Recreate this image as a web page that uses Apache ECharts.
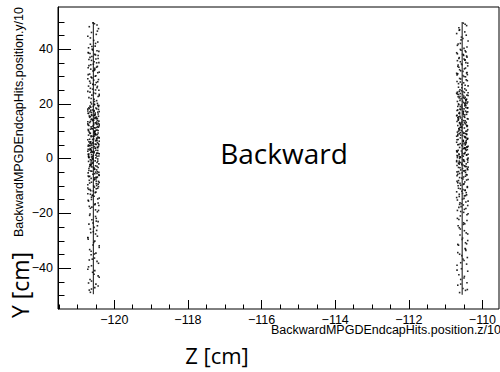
<!DOCTYPE html>
<html>
<head>
<meta charset="utf-8">
<script src="https://cdn.jsdelivr.net/npm/echarts@6/dist/echarts.min.js"></script>
<style>
  html, body { margin: 0; padding: 0; background: #fff; }
  #chart { width: 500px; height: 372px; }
</style>
</head>
<body>
<div id="chart"></div>
<script>
// Hit positions (z, y) in cm for the two backward MPGD endcap layers
const leftHits = [
  [-120.54,49.2],[-120.68,48.1],[-120.43,47.4],[-120.62,46.0],[-120.49,45.3],[-120.72,44.6],[-120.56,43.1],[-120.45,42.5],[-120.65,41.7],[-120.52,41.0],[-120.70,40.4],[-120.47,48.7],
  [-120.59,39.6],[-120.42,39.1],[-120.66,38.3],[-120.51,37.8],[-120.61,37.2],[-120.44,36.5],[-120.69,36.1],[-120.55,35.3],[-120.48,34.9],[-120.64,34.2],[-120.46,33.6],[-120.71,33.1],[-120.53,32.4],[-120.58,31.9],[-120.41,31.5],[-120.67,30.8],[-120.50,30.2],[-120.63,29.7],
  [-120.72,29.1],[-120.56,28.6],[-120.45,28.0],[-120.65,27.5],[-120.52,26.9],[-120.70,26.4],[-120.47,25.8],[-120.59,25.3],[-120.42,24.9],[-120.66,24.2],[-120.51,23.7],[-120.61,23.1],[-120.44,22.6],[-120.69,22.2],[-120.55,21.6],[-120.48,21.1],[-120.64,20.5],[-120.46,20.1],[-120.71,38.7],[-120.53,32.9],[-120.58,27.1],[-120.41,23.4],
  [-120.54,19.8],[-120.45,19.4],[-120.66,19.1],[-120.64,18.7],[-120.50,18.4],[-120.72,18.0],[-120.59,17.7],[-120.55,17.5],[-120.41,17.1],[-120.62,16.8],
  [-120.70,16.4],[-120.44,16.2],[-120.53,15.8],[-120.68,15.5],[-120.65,15.3],[-120.51,14.9],[-120.46,14.6],[-120.63,14.2],[-120.56,14.0],[-120.42,13.6],
  [-120.48,13.3],[-120.67,13.1],[-120.49,12.7],[-120.47,12.4],[-120.69,12.0],[-120.58,11.8],[-120.43,11.4],[-120.52,11.1],[-120.61,10.9],[-120.71,10.5],
  [-120.44,10.2],[-120.53,9.8],[-120.68,9.6],[-120.65,9.2],[-120.51,8.9],[-120.46,8.7],[-120.63,8.3],[-120.56,8.0],[-120.42,7.6],[-120.48,7.4],
  [-120.67,7.0],[-120.49,6.7],[-120.47,6.5],[-120.69,6.1],[-120.58,5.8],[-120.43,5.4],[-120.52,5.2],[-120.61,4.8],[-120.71,4.5],[-120.54,4.3],
  [-120.45,3.9],[-120.66,3.6],[-120.64,3.2],[-120.50,3.0],[-120.72,2.6],[-120.59,2.3],[-120.55,2.1],[-120.41,1.7],[-120.62,1.4],[-120.70,1.0],
  [-120.47,0.8],[-120.69,0.4],[-120.58,0.1],[-120.43,18.9],[-120.52,16.6],[-120.61,14.4],[-120.71,12.2],[-120.54,10.0],[-120.45,7.8],[-120.66,5.6],[-120.64,3.4],[-120.50,1.2],[-120.72,17.3],[-120.59,13.8],[-120.55,9.4],[-120.41,6.3],[-120.62,2.8],[-120.70,0.6],
  [-120.54,19.6],[-120.68,18.2],[-120.43,17.9],[-120.62,16.0],[-120.49,15.1],[-120.72,13.4],[-120.56,12.9],[-120.45,11.6],[-120.65,10.7],[-120.52,9.0],
  [-120.70,8.5],[-120.47,7.2],[-120.59,6.9],[-120.42,5.0],[-120.66,4.6],[-120.51,3.7],[-120.61,2.4],[-120.44,1.9],[-120.69,0.3],[-120.55,15.6],
  [-120.48,11.3],[-120.64,6.0],[-120.46,4.1],[-120.71,1.5],[-120.53,14.7],[-120.58,8.1],[-120.41,12.5],[-120.67,3.1],[-120.50,10.3],[-120.63,5.3],
  [-120.45,-0.2],[-120.65,-0.5],[-120.52,-0.9],[-120.70,-1.1],[-120.47,-1.5],[-120.59,-1.8],[-120.42,-2.0],[-120.66,-2.4],[-120.51,-2.7],[-120.61,-3.1],
  [-120.44,-3.3],[-120.69,-3.7],[-120.55,-4.0],[-120.48,-4.2],[-120.64,-4.6],[-120.46,-4.9],[-120.71,-5.3],[-120.53,-5.6],[-120.58,-5.8],[-120.41,-6.2],
  [-120.67,-6.5],[-120.50,-6.9],[-120.63,-7.3],[-120.54,-7.6],[-120.68,-8.0],[-120.43,-8.4],[-120.62,-8.7],[-120.49,-9.2],[-120.72,-9.6],[-120.56,-10.1],
  [-120.54,-10.5],[-120.45,-10.9],[-120.66,-11.4],[-120.64,-11.8],[-120.50,-12.3],[-120.72,-12.9],[-120.59,-13.4],[-120.55,-13.8],[-120.41,-14.5],[-120.62,-15.0],
  [-120.70,-15.6],[-120.44,-16.3],[-120.53,-16.9],[-120.68,-17.5],[-120.65,-18.2],[-120.51,-18.8],[-120.46,-19.5],[-120.63,-1.3],[-120.56,-3.5],[-120.42,-5.1],
  [-120.48,-7.0],[-120.67,-9.0],[-120.49,-11.1],[-120.47,-2.9],[-120.69,-6.7],
  [-120.66,-20.3],[-120.51,-21.2],[-120.61,-22.4],[-120.44,-23.1],[-120.69,-24.0],[-120.55,-25.2],[-120.48,-26.3],[-120.64,-27.1],[-120.46,-28.4],[-120.71,-29.5],
  [-120.53,-30.2],[-120.58,-31.6],[-120.41,-32.5],[-120.67,-33.3],[-120.50,-34.6],[-120.63,-35.2],[-120.54,-36.4],[-120.68,-37.1],[-120.43,-38.3],[-120.62,-39.2],[-120.49,-22.9],[-120.72,-29.0],
  [-120.72,-40.5],[-120.59,-41.6],[-120.55,-42.3],[-120.41,-43.4],[-120.62,-44.8],[-120.70,-45.5],[-120.44,-46.6],[-120.53,-47.2],[-120.68,-48.1],[-120.65,-48.9],
  [-120.60,39.9],[-120.47,39.3],[-120.70,38.5],[-120.53,38.0],[-120.44,37.6],[-120.66,36.9],[-120.50,36.3],[-120.62,35.8],[-120.42,35.0],[-120.57,34.4],
  [-120.69,33.9],[-120.48,33.3],[-120.64,32.6],[-120.55,32.1],[-120.45,31.3],[-120.71,30.6],[-120.52,30.0],[-120.61,29.4],[-120.43,28.8],[-120.67,28.2],
  [-120.49,27.7],[-120.58,27.0],[-120.46,26.3],[-120.65,25.6],[-120.51,25.0],[-120.72,24.5],[-120.56,23.9],[-120.41,22.9],[-120.63,21.9],[-120.54,20.8],
  [-120.62,19.9],[-120.42,19.3],[-120.57,19.0],[-120.69,18.5],[-120.48,18.1],[-120.64,17.6],[-120.55,17.2],[-120.45,16.9],[-120.71,16.5],[-120.52,16.1],
  [-120.61,15.7],[-120.43,15.4],[-120.67,15.0],[-120.49,14.5],[-120.58,14.1],[-120.46,13.9],[-120.65,13.5],[-120.51,13.0],[-120.72,12.6],[-120.56,12.3],
  [-120.41,11.9],[-120.63,11.5],[-120.54,11.2],[-120.60,10.8],[-120.47,10.4],[-120.70,10.1],[-120.53,9.7],[-120.44,9.3],[-120.66,9.1],[-120.50,8.6],
  [-120.54,8.2],[-120.63,7.9],[-120.41,7.5],[-120.56,7.1],[-120.72,6.8],[-120.51,6.4],[-120.65,6.0],[-120.46,5.7],[-120.58,5.5],[-120.49,5.1],
  [-120.67,4.7],[-120.43,4.4],[-120.61,4.0],[-120.52,3.7],[-120.71,3.3],[-120.45,2.9],[-120.55,2.5],[-120.64,2.2],[-120.48,1.8],[-120.69,1.6],
  [-120.57,1.1],[-120.42,0.9],[-120.62,0.5],[-120.50,0.2],[-120.66,17.0],[-120.44,12.8],[-120.53,8.8],[-120.70,4.9],[-120.47,2.0],[-120.60,0.7],
  [-120.60,-0.1],[-120.62,-0.7],[-120.45,-1.0],[-120.58,-1.4],[-120.63,-1.9],[-120.66,-2.2],[-120.64,-2.6],[-120.67,-3.0],[-120.56,-3.4],[-120.53,-3.9],
  [-120.69,-4.4],[-120.61,-4.7],[-120.51,-5.0],[-120.47,-5.5],[-120.42,-6.0],[-120.71,-6.4],[-120.46,-6.8],[-120.54,-7.1],[-120.50,-7.5],[-120.55,-7.9],
  [-120.49,-8.3],[-120.41,-8.8],[-120.44,-9.4],[-120.48,-9.9],[-120.43,-10.3],[-120.72,-10.8],[-120.70,-11.3],[-120.57,-11.9],[-120.52,-12.5],[-120.65,-13.1],
  [-120.60,-13.6],[-120.62,-14.2],[-120.45,-14.8],[-120.58,-0.4],[-120.63,-2.3],
  [-120.71,-15.3],[-120.52,-16.6],[-120.61,-17.8],[-120.43,-19.0],[-120.67,-20.8],[-120.49,-21.9],[-120.58,-23.6],[-120.46,-24.6],[-120.65,-25.8],[-120.51,-27.6],
  [-120.72,-28.9],[-120.56,-30.7],[-120.41,-31.9],[-120.63,-33.9],[-120.54,-34.9],[-120.60,-36.8],[-120.47,-37.6],[-120.70,-39.6],[-120.53,-41.0],[-120.44,-42.9],
  [-120.66,-44.2],[-120.50,-45.9],[-120.62,-47.7],[-120.42,-17.2],[-120.57,-26.8],
  [-120.58,49.5],[-120.46,46.5],[-120.65,44.0],[-120.51,42.0],[-120.61,40.9]
];

const rightHits = [
  [-110.52,49.4],[-110.43,48.5],[-110.64,47.7],[-110.62,47.0],[-110.48,46.2],[-110.70,45.6],[-110.57,44.3],[-110.53,43.8],[-110.39,42.9],[-110.60,42.0],[-110.68,41.3],[-110.42,40.7],
  [-110.60,39.8],[-110.47,39.3],[-110.70,38.6],[-110.54,38.0],[-110.43,37.4],[-110.63,36.8],[-110.50,36.3],[-110.68,35.7],[-110.45,35.0],[-110.57,34.5],
  [-110.40,33.8],[-110.64,33.3],[-110.49,32.7],[-110.59,32.0],[-110.42,31.4],[-110.67,30.9],[-110.53,30.3],[-110.46,29.8],[-110.62,29.2],[-110.44,28.7],
  [-110.69,28.1],[-110.51,27.6],[-110.56,27.0],[-110.39,26.5],[-110.65,26.0],[-110.48,25.4],[-110.61,25.1],[-110.52,37.9],[-110.66,34.1],[-110.41,30.6],[-110.60,27.9],[-110.47,36.0],[-110.70,31.1],
  [-110.57,24.7],[-110.53,24.4],[-110.39,24.0],[-110.60,23.7],[-110.68,23.5],[-110.42,23.1],[-110.51,22.8],[-110.66,22.5],[-110.63,22.1],[-110.49,21.9],
  [-110.44,21.5],[-110.61,21.2],[-110.54,20.9],[-110.40,20.6],[-110.46,20.3],[-110.65,19.9],[-110.47,19.7],[-110.45,19.3],[-110.67,19.0],[-110.56,18.8],
  [-110.41,18.4],[-110.50,18.1],[-110.59,17.8],[-110.69,17.5],[-110.52,17.2],[-110.43,16.9],[-110.64,16.5],[-110.62,16.3],[-110.48,15.9],[-110.70,15.6],
  [-110.61,15.4],[-110.48,15.0],[-110.65,14.7],[-110.39,14.4],[-110.56,14.1],[-110.51,13.8],[-110.69,13.5],[-110.44,13.2],[-110.62,12.9],[-110.46,12.6],
  [-110.53,12.3],[-110.67,12.0],[-110.42,11.7],[-110.59,11.4],[-110.49,11.1],[-110.64,10.8],[-110.40,10.5],[-110.57,10.2],[-110.45,9.9],[-110.68,9.6],
  [-110.50,9.3],[-110.63,9.0],[-110.43,8.7],[-110.54,8.4],[-110.70,8.1],[-110.47,7.8],[-110.60,7.5],[-110.41,7.2],[-110.66,6.9],[-110.52,6.6],
  [-110.52,6.3],[-110.45,6.0],[-110.44,5.7],[-110.60,5.4],[-110.64,5.1],[-110.56,4.8],[-110.54,4.5],[-110.42,4.2],[-110.48,3.9],[-110.50,3.6],
  [-110.46,3.3],[-110.66,3.0],[-110.57,2.7],[-110.69,2.4],[-110.47,2.1],[-110.49,1.8],[-110.39,1.5],[-110.43,1.2],[-110.67,0.9],[-110.61,0.6],
  [-110.68,0.3],[-110.62,0.0],[-110.41,-0.3],[-110.40,-0.6],[-110.51,-0.9],[-110.70,-1.2],[-110.59,-1.5],[-110.65,-1.8],[-110.63,-2.1],[-110.53,-2.4],
  [-110.49,-2.7],[-110.44,-3.0],[-110.61,-3.4],[-110.54,-3.7],[-110.40,-4.1],[-110.46,-4.4],[-110.65,-4.8],[-110.47,22.3],[-110.45,18.6],[-110.67,14.9],
  [-110.56,11.2],[-110.41,7.0],[-110.50,3.7],[-110.59,0.4],[-110.69,-2.6],[-110.52,16.0],[-110.43,8.9],[-110.64,1.6],
  [-110.68,24.2],[-110.45,21.0],[-110.57,19.5],[-110.40,17.0],[-110.64,15.2],[-110.49,13.0],[-110.59,12.2],[-110.42,10.0],[-110.67,8.3],[-110.53,6.4],
  [-110.46,5.2],[-110.62,4.0],[-110.44,2.9],[-110.69,1.0],[-110.51,-0.5],[-110.56,-1.9],[-110.39,-3.2],[-110.65,23.3],[-110.48,20.0],[-110.61,18.0],
  [-110.52,16.6],[-110.66,14.0],[-110.41,11.9],[-110.60,9.4],[-110.47,7.7],[-110.70,5.9],[-110.54,3.4],[-110.43,1.3],[-110.63,-1.0],[-110.50,-4.5],
  [-110.46,-5.1],[-110.62,-5.5],[-110.44,-5.9],[-110.69,-6.3],[-110.51,-6.8],[-110.56,-7.2],[-110.39,-7.7],[-110.65,-8.1],[-110.48,-8.6],[-110.61,-9.1],
  [-110.52,-9.5],[-110.66,-10.0],[-110.41,-10.6],[-110.60,-11.1],[-110.47,-11.7],[-110.70,-12.2],[-110.54,-12.8],[-110.43,-13.3],[-110.63,-13.9],[-110.50,-14.6],
  [-110.68,-15.2],[-110.45,-15.9],[-110.57,-16.5],[-110.40,-17.2],[-110.64,-17.9],[-110.49,-18.6],[-110.59,-19.4],[-110.42,-6.0],[-110.67,-8.9],[-110.53,-11.4],[-110.46,-13.6],[-110.62,-16.8],
  [-110.39,-20.2],[-110.60,-21.0],[-110.68,-21.9],[-110.42,-22.7],[-110.51,-23.5],[-110.66,-24.6],[-110.63,-25.3],[-110.49,-26.4],[-110.44,-27.2],[-110.61,-28.0],
  [-110.54,-29.1],[-110.40,-30.0],[-110.46,-30.8],[-110.65,-31.7],[-110.47,-32.9],[-110.45,-33.6],[-110.67,-34.4],[-110.56,-35.5],[-110.41,-36.2],[-110.50,-37.3],[-110.59,-38.1],[-110.69,-39.0],[-110.52,-24.1],[-110.43,-31.2],
  [-110.57,-40.3],[-110.40,-41.2],[-110.64,-42.5],[-110.49,-43.1],[-110.59,-44.2],[-110.42,-45.4],[-110.67,-46.3],[-110.53,-47.5],[-110.46,-48.2],[-110.62,-49.0],
  [-110.58,39.5],[-110.45,38.9],[-110.68,38.2],[-110.51,37.6],[-110.42,37.0],[-110.64,36.5],[-110.48,35.9],[-110.60,35.3],[-110.40,34.8],[-110.55,34.2],
  [-110.67,33.6],[-110.46,33.0],[-110.62,32.4],[-110.53,31.8],[-110.43,31.2],[-110.69,30.5],[-110.50,29.9],[-110.59,29.0],[-110.41,28.4],[-110.65,27.3],[-110.47,26.7],[-110.56,25.8],
  [-110.44,24.9],[-110.63,24.5],[-110.49,24.1],[-110.70,23.8],[-110.54,23.4],[-110.39,23.0],[-110.61,22.6],[-110.52,22.2],[-110.58,21.8],[-110.45,21.4],
  [-110.68,20.8],[-110.51,20.4],[-110.42,20.1],[-110.64,19.6],[-110.48,19.2],[-110.60,18.9],[-110.40,18.5],[-110.55,18.2],[-110.67,17.7],[-110.46,17.3],
  [-110.62,16.8],[-110.53,16.4],[-110.43,16.1],[-110.69,15.7],[-110.50,15.3],[-110.59,14.8],[-110.41,14.5],[-110.65,14.2],[-110.47,13.7],[-110.56,13.3],
  [-110.58,12.8],[-110.60,12.4],[-110.43,12.1],[-110.56,11.6],[-110.61,11.3],[-110.64,10.9],[-110.62,10.4],[-110.65,10.0],[-110.54,9.7],[-110.51,9.2],
  [-110.67,8.8],[-110.59,8.5],[-110.49,8.0],[-110.45,7.6],[-110.40,7.3],[-110.69,6.8],[-110.44,6.5],[-110.52,6.1],[-110.48,5.6],[-110.53,5.3],
  [-110.47,4.9],[-110.39,4.4],[-110.42,4.1],[-110.46,3.8],[-110.41,3.2],[-110.70,2.8],[-110.68,2.5],[-110.55,2.0],[-110.50,1.7],[-110.63,1.4],
  [-110.52,0.8],[-110.61,0.5],[-110.39,0.1],[-110.54,-0.4],[-110.70,-0.8],[-110.49,-1.1],[-110.63,-1.6],[-110.44,-2.0],[-110.56,-2.3],[-110.47,-2.9],
  [-110.65,-3.3],[-110.41,-3.8],[-110.59,-4.2],[-110.50,-4.6],[-110.69,-4.9],[-110.43,21.6],[-110.53,17.1],[-110.62,13.1],[-110.46,9.1],[-110.67,5.0],[-110.55,1.1],[-110.40,-1.4],
  [-110.55,-5.3],[-110.67,-5.8],[-110.46,-6.5],[-110.62,-7.0],[-110.53,-7.5],[-110.43,-7.9],[-110.69,-8.4],[-110.50,-9.3],[-110.59,-9.8],[-110.41,-10.3],
  [-110.65,-10.9],[-110.47,-11.6],[-110.56,-12.0],[-110.44,-12.5],[-110.63,-13.1],[-110.49,-13.7],[-110.70,-14.3],[-110.54,-14.9],[-110.39,-15.6],[-110.61,-16.2],
  [-110.52,-17.0],[-110.58,-17.6],[-110.45,-18.3],[-110.68,-19.0],[-110.51,-19.7],
  [-110.42,-20.6],[-110.64,-22.3],[-110.48,-23.9],[-110.60,-25.8],[-110.40,-27.6],[-110.55,-29.6],[-110.67,-31.4],[-110.46,-33.2],[-110.62,-35.0],[-110.53,-36.8],[-110.43,-38.6],[-110.69,-40.8],[-110.50,-43.7],[-110.59,-45.9],[-110.41,-47.9],
  [-110.47,49.0],[-110.63,46.8],[-110.44,45.0],[-110.58,43.3],[-110.66,41.8],[-110.50,40.2]
];

// Hits sitting exactly on each layer plane form a continuous track
const leftLayerTrack = [[-120.57, -49.6], [-120.57, 49.8]];
const rightLayerTrack = [[-110.55, -49.8], [-110.55, 49.8]];

// Axis ranges and tick positions
const zRange = [-121.53, -109.55];
const yRange = [-55.0, 55.3];
const zMajorTicks = [-120, -118, -116, -114, -112, -110];
const zMinorTicks = [-121.5, -121, -120.5, -119.5, -119, -118.5, -117.5, -117, -116.5, -115.5, -115, -114.5,
                     -113.5, -113, -112.5, -111.5, -111, -110.5, -109.5];
const yMajorTicks = [-40, -20, 0, 20, 40];
const yMinorTicks = [-50, -45, -35, -30, -25, -15, -10, -5, 5, 10, 15, 25, 30, 35, 45, 50];

const xTitle = 'BackwardMPGDEndcapHits.position.z/10';
const yTitle = 'BackwardMPGDEndcapHits.position.y/10';

const minusSign = v => String(v).replace('-', '\u2212');

const chart = echarts.init(document.getElementById('chart'), null, { renderer: 'svg' });

const titles = [
  {
    type: 'text', x: 501, y: 330,
    style: { text: xTitle, font: '12.5px "Liberation Sans"', fill: '#000', align: 'right', verticalAlign: 'middle' }
  },
  {
    type: 'text', x: 19, y: 7, rotation: Math.PI / 2,
    style: { text: yTitle, font: '12.5px "Liberation Sans"', fill: '#000', align: 'right', verticalAlign: 'middle' }
  },
  {
    type: 'text', x: 284, y: 153,
    style: { text: 'Backward', font: '28px "Open Sans"', fill: '#000', align: 'center', verticalAlign: 'middle' }
  },
  {
    type: 'text', x: 217, y: 355,
    style: { text: 'Z [cm]', font: '22px "Open Sans"', fill: '#000', align: 'center', verticalAlign: 'middle' }
  },
  {
    type: 'text', x: 20, y: 285, rotation: Math.PI / 2,
    style: { text: 'Y [cm]', font: '23px "Open Sans"', fill: '#000', align: 'center', verticalAlign: 'middle' }
  }
];

chart.setOption({
  animation: false,
  grid: {
    left: 58, top: 7, width: 441, height: 302,
    show: true, borderColor: '#000', borderWidth: 1, outerBoundsMode: 'none'
  },
  xAxis: [
    {
      type: 'value', min: zRange[0], max: zRange[1], position: 'bottom',
      axisLine: { show: false, onZero: false }, splitLine: { show: false },
      axisTick: { show: true, inside: true, length: 9, customValues: zMajorTicks, lineStyle: { color: '#000', width: 1 } },
      axisLabel: { customValues: zMajorTicks, margin: 4, formatter: minusSign,
                   fontFamily: 'Liberation Sans', fontSize: 12.5, color: '#000' }
    },
    {
      type: 'value', min: zRange[0], max: zRange[1], position: 'bottom',
      axisLine: { show: false, onZero: false }, splitLine: { show: false },
      axisTick: { show: true, inside: true, length: 4.5, customValues: zMinorTicks, lineStyle: { color: '#000', width: 1 } },
      axisLabel: { show: false }
    }
  ],
  yAxis: {
    type: 'value', min: yRange[0], max: yRange[1], position: 'left',
    axisLine: { show: true, onZero: false, lineStyle: { color: '#000', width: 1 } },
    splitLine: { show: false },
    axisTick: { show: false },
    axisLabel: { customValues: yMajorTicks, margin: 5, formatter: minusSign,
                 fontFamily: 'Liberation Sans', fontSize: 12.5, color: '#000' }
  },
  series: [
    {
      type: 'line', data: leftLayerTrack,
      symbol: 'none', lineStyle: { color: '#111', width: 1 }
    },
    {
      type: 'line', data: rightLayerTrack,
      symbol: 'none', lineStyle: { color: '#333', width: 1.2 }
    },
    {
      type: 'scatter', data: leftHits,
      symbol: 'rect', symbolSize: 1.6, itemStyle: { color: '#000', opacity: 0.85 }
    },
    {
      type: 'scatter', data: rightHits,
      symbol: 'rect', symbolSize: 1.6, itemStyle: { color: '#000', opacity: 0.85 }
    }
  ],
  graphic: titles
});

// Inward y-axis ticks (long at labelled values, short in between), placed through the y scale
const frameLeft = chart.convertToPixel({ xAxisIndex: 0 }, zRange[0]);
const yTickMark = (value, len) => {
  const py = Math.round(chart.convertToPixel({ yAxisIndex: 0 }, value)) + 0.5;
  return {
    type: 'polyline', z: 100,
    shape: { points: [[frameLeft, py], [frameLeft + len, py]] },
    style: { stroke: '#000', lineWidth: 1, fill: null }
  };
};
const yTickMarks = yMajorTicks.map(v => yTickMark(v, 13)).concat(yMinorTicks.map(v => yTickMark(v, 6.5)));
chart.setOption({ graphic: titles.concat(yTickMarks) });
</script>
</body>
</html>
